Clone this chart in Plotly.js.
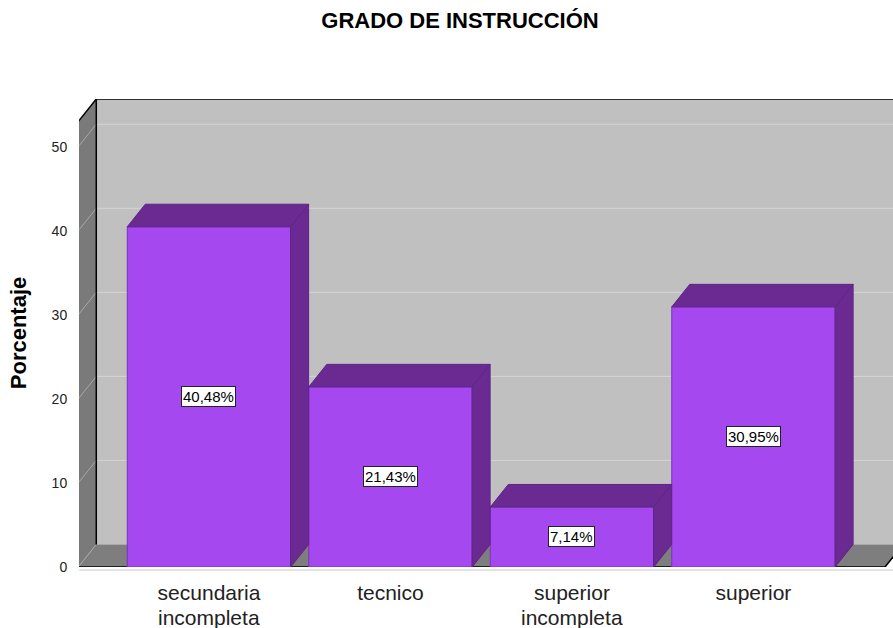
<!DOCTYPE html>
<html>
<head>
<meta charset="utf-8">
<script src="https://cdn.plot.ly/plotly-3.0.1.min.js"></script>
<style>html,body{margin:0;padding:0;background:#fff;}#chart{width:893px;height:628px;}</style>
</head>
<body>
<div id="chart"></div>
<script>
// ---- data ----
const categoryLine1 = ["secundaria", "tecnico", "superior", "superior"];
const categoryLine2 = ["incompleta", "", "incompleta", ""];
const percentages = [40.48, 21.43, 7.14, 30.95];
const yTickValues = [0, 10, 20, 30, 40, 50];
const yTickLabels = ["0", "10", "20", "30", "40", "50"];
const chartTitle = "GRADO DE INSTRUCCIÓN";
const yTitle = "Porcentaje";

// ---- 3D frame parameters (data units) ----
const DX = 0.0992;      // depth offset along x (category units)
const DY = 2.68;        // depth offset along y (value units)
const WALL_TOP = 53.0;  // front-plane top of walls
const XL = -0.72;       // front-plane left edge
const XR = 3.725;       // front-plane right edge
const BAR_W = 0.9;
const FONT = "Liberation Sans, Arial, sans-serif";

const xIdx = categoryLine1.map((_, i) => i);
const P = (x, y) => x + "," + y;
const path = pts => "M" + pts.map(p => P(p[0], p[1])).join(" L") + " Z";

const shapes = [];
// back wall
shapes.push({type: "path", layer: "below", xref: "x", yref: "y", line: {width: 0},
  fillcolor: "#c0c0c0",
  path: path([[XL + DX, DY], [XR + DX + 1, DY], [XR + DX + 1, WALL_TOP + DY], [XL + DX, WALL_TOP + DY]])});
// back wall gridlines
yTickValues.slice(1).forEach(t => {
  shapes.push({type: "line", layer: "below", xref: "x", yref: "y",
    x0: XL + DX, x1: XR + DX + 1, y0: t + DY, y1: t + DY, line: {color: "#d4d4d4", width: 1}});
});
// floor
shapes.push({type: "path", layer: "below", xref: "x", yref: "y", line: {width: 0},
  fillcolor: "#7e7e7e",
  path: path([[XL, 0], [XR, 0], [XR + DX, DY], [XL + DX, DY]])});
// floor back edge (light)
shapes.push({type: "line", layer: "below", xref: "x", yref: "y",
  x0: XL + DX, x1: XR + DX + 1, y0: DY, y1: DY, line: {color: "#a9a9a9", width: 1}});
// left wall
shapes.push({type: "path", layer: "below", xref: "x", yref: "y", line: {width: 0},
  fillcolor: "#7a7a7a",
  path: path([[XL, 0], [XL, WALL_TOP], [XL + DX, WALL_TOP + DY], [XL + DX, DY]])});
// left wall diagonal gridlines
yTickValues.forEach(t => {
  shapes.push({type: "line", layer: "below", xref: "x", yref: "y",
    x0: XL, x1: XL + DX, y0: t, y1: t + DY, line: {color: "#a8a8a8", width: 1}});
});
// black frame edges
const blackEdges = [
  [[XL, 0], [XL, WALL_TOP]],
  [[XL, WALL_TOP], [XL + DX, WALL_TOP + DY]],
  [[XL + DX, DY], [XL + DX, WALL_TOP + DY]],
  [[XL + DX, WALL_TOP + DY], [XR + DX + 1, WALL_TOP + DY]],
  [[XL, 0], [XR, 0]],
  [[XR, 0], [XR + DX, DY]]
];
blackEdges.forEach(e => {
  shapes.push({type: "line", layer: "below", xref: "x", yref: "y",
    x0: e[0][0], y0: e[0][1], x1: e[1][0], y1: e[1][1], line: {color: "#000", width: 1.5}});
});
// thin light line under the floor
shapes.push({type: "line", layer: "below", xref: "x", yref: "paper",
  x0: XL, x1: XR + DX + 1, y0: -3 / 468, y1: -3 / 468, line: {color: "#c8c8c8", width: 1}});

// bar top and side faces
percentages.forEach((v, i) => {
  const x0 = xIdx[i] - BAR_W / 2, x1 = xIdx[i] + BAR_W / 2;
  shapes.push({type: "path", layer: "above", xref: "x", yref: "y",
    fillcolor: "#6a2a92", line: {color: "#5e2586", width: 1},
    path: path([[x1, 0], [x1, v], [x1 + DX, v + DY], [x1 + DX, DY]])});
  shapes.push({type: "path", layer: "above", xref: "x", yref: "y",
    fillcolor: "#6a2a92", line: {color: "#5e2586", width: 1},
    path: path([[x0, v], [x0 + DX, v + DY], [x1 + DX, v + DY], [x1, v]])});
});

const annotations = percentages.map((v, i) => ({
  x: xIdx[i], y: v / 2, xref: "x", yref: "y", showarrow: false,
  text: v.toFixed(2).replace(".", ",") + "%",
  font: {family: FONT, size: 15, color: "#000"},
  bgcolor: "#fff", bordercolor: "#222", borderwidth: 1, borderpad: 1
}));
// second lines of the category labels
categoryLine2.forEach((t, i) => {
  if (!t) return;
  annotations.push({x: xIdx[i], y: -50 / 468, xref: "x", yref: "paper",
    xanchor: "center", yanchor: "middle", showarrow: false, text: t,
    font: {family: FONT, size: 21, color: "#222"}});
});

const trace = {
  type: "bar", x: xIdx, y: percentages, width: BAR_W,
  marker: {color: "#a548f0", line: {color: "#7a33b8", width: 1}},
  hoverinfo: "none", cliponaxis: false
};

const layout = {
  width: 893, height: 628,
  margin: {l: 79, r: 0, t: 99, b: 61, pad: 0},
  paper_bgcolor: "#fff", plot_bgcolor: "rgba(0,0,0,0)",
  showlegend: false,
  font: {family: FONT, color: "#222"},
  title: {text: "<b>" + chartTitle + "</b>", x: 460 / 893, xanchor: "center",
    y: 1 - 20 / 628, yanchor: "middle", yref: "container",
    font: {family: FONT, size: 22, color: "#000"}},
  xaxis: {range: [-0.716, 3.769], tickvals: xIdx, ticktext: categoryLine1,
    showgrid: false, zeroline: false, showline: false,
    ticks: "outside", ticklen: 7, tickcolor: "rgba(0,0,0,0)",
    tickfont: {size: 21, color: "#222"}, fixedrange: true},
  yaxis: {range: [0, WALL_TOP + DY], tickvals: yTickValues, ticktext: yTickLabels,
    showgrid: false, zeroline: false, showline: false,
    ticks: "outside", ticklen: 8, tickcolor: "rgba(0,0,0,0)",
    tickfont: {size: 14, color: "#222"},
    title: {text: "<b>" + yTitle + "</b>", standoff: 18,
      font: {size: 22, color: "#000"}}, fixedrange: true},
  shapes: shapes,
  annotations: annotations
};

Plotly.newPlot("chart", [trace], layout, {displayModeBar: false, staticPlot: true});
</script>
</body>
</html>
